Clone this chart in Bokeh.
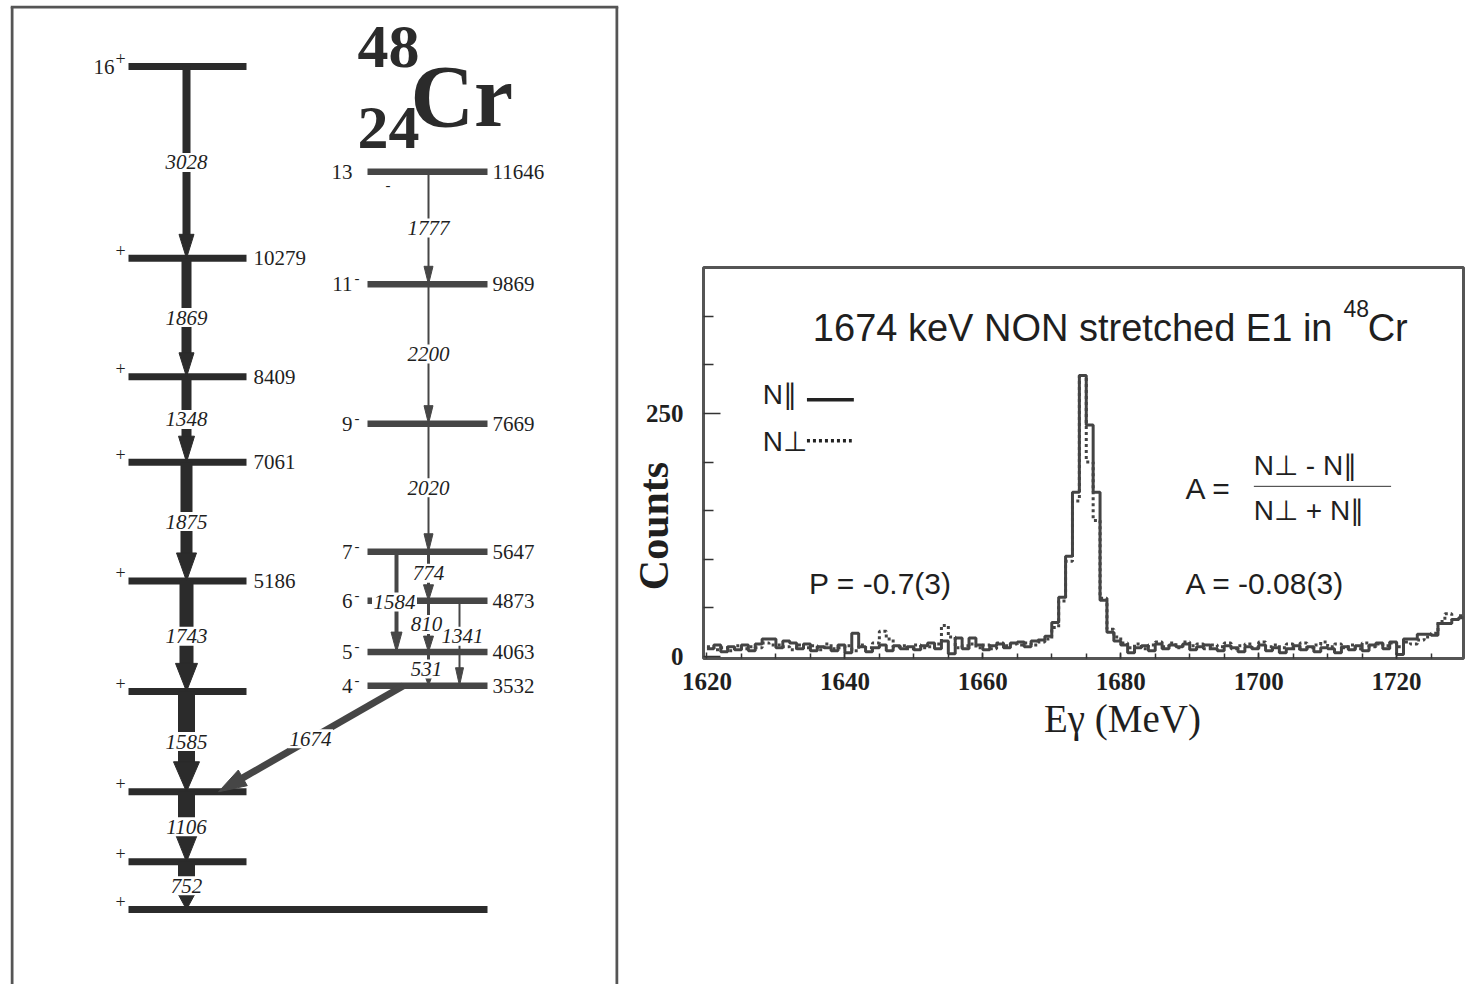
import math
from bokeh.plotting import figure
from bokeh.models import Range1d, FixedTicker, ColumnDataSource
from bokeh.layouts import row
from bokeh.embed import file_html
from bokeh.resources import INLINE
from bokeh.core.properties import value

# ---------------- level scheme data (keV) ----------------
gsb_levels = [0, 752, 1858, 3443, 5186, 7061, 8409, 10279, 13307]
gsb_energy_labels = ["", "", "", "", "5186", "7061", "8409", "10279", ""]
gsb_spin_labels = ["", "", "", "", "", "", "", "", "16"]
gsb_gammas = ["752", "1106", "1585", "1743", "1875", "1348", "1869", "3028"]  # level i+1 -> i

neg_levels = [3532, 4063, 4873, 5647, 7669, 9869, 11646]
neg_spin_labels = ["4", "5", "6", "7", "9", "11", "13"]
neg_gammas = ["1777", "2200", "2020", "774", "1584", "810", "1341", "531", "1674"]
neg_gamma_from = [11646, 9869, 7669, 5647, 5647, 4873, 4873, 4063, 3532]
neg_gamma_to = [9869, 7669, 5647, 4873, 4063, 4063, 3532, 3532, 1858]

# ---------------- spectrum data ----------------
energy_bins = list(range(1620, 1730))  # bin left edges (keV), 1 keV bins
counts_par = [8, 12, 5, 10, 7, 12, 6, 13, 18, 18,
              9, 16, 14, 8, 13, 6, 10, 9, 6, 12,
              4, 24, 10, 5, 9, 12, 6, 11, 8, 10,
              7, 11, 14, 8, 16, 3, 19, 8, 19, 12,
              7, 11, 13, 9, 14, 15, 10, 16, 17, 21,
              35, 61, 103, 169, 289, 238, 169, 58, 25, 16,
              12, 4, 9, 11, 6, 13, 8, 12, 10, 13,
              7, 10, 12, 8, 6, 11, 9, 5, 10, 8,
              12, 6, 9, 4, 8, 11, 7, 10, 5, 9,
              8, 4, 10, 7, 11, 6, 12, 14, 8, 15,
              2, 18, 18, 23, 23, 22, 34, 34, 38, 40]
counts_perp = [10, 7, 9, 6, 11, 8, 10, 9, 14, 12,
               12, 10, 7, 12, 9, 11, 7, 13, 8, 9,
               11, 6, 12, 9, 14, 26, 18, 10, 11, 8,
               12, 9, 10, 13, 32, 20, 9, 11, 13, 9,
               12, 8, 14, 11, 13, 12, 14, 12, 15, 18,
               30, 57, 98, 160, 289, 200, 140, 60, 28, 20,
               14, 9, 13, 8, 12, 15, 10, 14, 9, 15,
               11, 13, 8, 12, 10, 14, 8, 11, 13, 9,
               15, 10, 12, 9, 13, 8, 14, 9, 12, 15,
               10, 13, 9, 12, 8, 14, 10, 13, 11, 14,
               10, 15, 13, 17, 20, 24, 36, 44, 38, 42]

SERIF = "Liberation Serif"
SANS = "Liberation Sans"
DARK = "#2b2b2b"
GREY = "#464646"
TXT = "#1f1f1f"

# ================= left panel: level scheme =================
E_BOT, E_TOP = -1184, 14270
FRAME_TOP = 5
FRAME_H = 979
S = FRAME_H / (E_TOP - E_BOT)  # px per keV


def px2e(px):
    return px / S


def y2e(y):
    return E_TOP - (y - FRAME_TOP) / S


p1 = figure(output_backend="svg", toolbar_location=None,
            x_range=Range1d(10, 618), y_range=Range1d(E_BOT, E_TOP),
            frame_width=608, frame_height=FRAME_H,
            min_border_left=10, min_border_right=2, min_border_top=FRAME_TOP, min_border_bottom=0,
            x_axis_location=None, y_axis_location=None)
p1.xgrid.visible = False
p1.ygrid.visible = False
p1.outline_line_color = None
p1.background_fill_color = "white"
p1.border_fill_color = "white"

# box border (left, right, top)
top_e = E_TOP - px2e(1.5)
p1.multi_line(xs=[[11.5, 11.5], [616.5, 616.5], [10, 618]],
              ys=[[E_BOT, top_e], [E_BOT, top_e], [top_e, top_e]],
              line_color="#555555", line_width=3)

# level bars
gx0 = [128] * len(gsb_levels)
gx1 = [487 if e == 0 else 246 for e in gsb_levels]
p1.segment(x0=gx0, y0=gsb_levels, x1=gx1, y1=gsb_levels, line_color=DARK, line_width=7)
p1.segment(x0=[367] * len(neg_levels), y0=neg_levels, x1=[487] * len(neg_levels), y1=neg_levels,
           line_color=GREY, line_width=6.5)

# arrows
sh = dict(x0=[], y0=[], x1=[], y1=[], w=[], c=[])
hd = dict(xs=[], ys=[], c=[])
lab = dict(x=[], y=[], t=[], w=[])


def arrow(x0, e0, x1, e1, lw, hw, hl, color, text, lx=None, ldy=0):
    dx = x1 - x0
    dy = (e1 - e0) * S
    L = math.hypot(dx, dy)
    ux, uy = dx / L, dy / L
    bx = x1 - ux * hl
    by = e1 * S - uy * hl
    nx, ny = -uy, ux
    sh["x0"].append(x0); sh["y0"].append(e0)
    sh["x1"].append(bx + ux * 1.5); sh["y1"].append((by + uy * 1.5) / S)
    sh["w"].append(lw); sh["c"].append(color)
    hd["xs"].append([x1, bx + nx * hw / 2, bx - nx * hw / 2])
    hd["ys"].append([e1, (by + ny * hw / 2) / S, (by - ny * hw / 2) / S])
    hd["c"].append(color)
    lab["x"].append((x0 + x1) / 2 if lx is None else lx)
    lab["y"].append((e0 + e1) / 2 + px2e(ldy))
    lab["t"].append(text)
    lab["w"].append(10.5 * len(text) + 3)


gsb_lw = [17, 17, 17, 14, 12, 10, 10, 8]
gsb_hw = [24, 24, 26, 22, 20, 16, 15, 15]
gsb_hl = [22, 30, 30, 28, 28, 26, 24, 24]
for i, t in enumerate(gsb_gammas):
    arrow(186, gsb_levels[i + 1], 186, gsb_levels[i], gsb_lw[i], gsb_hw[i], gsb_hl[i], DARK, t)

neg_x0 = [428, 428, 428, 428, 396, 428, 459, 428, 403]
neg_x1 = [428, 428, 428, 428, 396, 428, 459, 428, 218]
neg_lw = [2, 2, 2, 3, 4, 3, 2, 3, 7]
neg_hw = [9, 9, 9, 10, 11, 10, 8, 10, 18]
neg_hl = [18, 18, 18, 16, 20, 16, 18, 14, 28]
neg_lx = [428, 428, 428, 428, 394, 426, 462, 426, 310]
neg_ldy = [0, 0, 0, 3, 0, 2, 7, 0, 0]
for i, t in enumerate(neg_gammas):
    arrow(neg_x0[i], neg_gamma_from[i], neg_x1[i], neg_gamma_to[i], neg_lw[i], neg_hw[i], neg_hl[i],
          GREY, t, lx=neg_lx[i], ldy=neg_ldy[i])

p1.segment(x0="x0", y0="y0", x1="x1", y1="y1", line_width="w", line_color="c",
           source=ColumnDataSource(sh))
p1.patches(xs="xs", ys="ys", fill_color="c", line_color="c", line_width=1,
           source=ColumnDataSource(hd))

lab_src = ColumnDataSource(lab)
p1.rect(x="x", y="y", width="w", height=19, width_units="screen", height_units="screen",
        fill_color="white", line_color=None, source=lab_src)
p1.text(x="x", y="y", text="t", source=lab_src, text_align="center", text_baseline="middle",
        text_font=value(SERIF), text_font_style="italic", text_font_size="21px", text_color=TXT)

# energy labels
ge = [e for e, l in zip(gsb_levels, gsb_energy_labels) if l]
gl = [l for l in gsb_energy_labels if l]
p1.text(x=[253] * len(ge), y=ge, text=gl, text_baseline="middle",
        text_font=value(SERIF), text_font_size="21px", text_color=TXT)
p1.text(x=[492] * len(neg_levels), y=neg_levels, text=[str(e) for e in neg_levels],
        text_baseline="middle", text_font=value(SERIF), text_font_size="21px", text_color=TXT)

# spins / parities
gs_e = [e for e, l in zip(gsb_levels, gsb_spin_labels) if l]
gs_l = [l for l in gsb_spin_labels if l]
p1.text(x=[114] * len(gs_e), y=gs_e, text=gs_l, text_align="right", text_baseline="middle",
        text_font=value(SERIF), text_font_size="21px", text_color=TXT)
p1.text(x=[115] * len(gsb_levels), y=[e + px2e(8) for e in gsb_levels],
        text=["+"] * len(gsb_levels), text_baseline="middle",
        text_font=value(SERIF), text_font_size="18px", text_color=TXT)
p1.text(x=[352] * len(neg_levels), y=neg_levels, text=neg_spin_labels, text_align="right",
        text_baseline="middle", text_font=value(SERIF), text_font_size="21px", text_color=TXT)
par_dx = [2, 2, 2, 2, 2, 2, 33]
par_dy = [6, 6, 6, 6, 6, 6, -13]
p1.text(x=[352 + d for d in par_dx], y=[e + px2e(d) for e, d in zip(neg_levels, par_dy)],
        text=["-"] * len(neg_levels), text_baseline="middle",
        text_font=value(SERIF), text_font_size="15px", text_color=TXT)

# nucleus symbol
p1.text(x=[357], y=[y2e(46)], text=["48"], text_baseline="middle",
        text_font=value(SERIF), text_font_style="bold", text_font_size="62px", text_color=DARK)
p1.text(x=[357], y=[y2e(127)], text=["24"], text_baseline="middle",
        text_font=value(SERIF), text_font_style="bold", text_font_size="62px", text_color=DARK)
p1.text(x=[410], y=[y2e(96)], text=["Cr"], text_baseline="middle",
        text_font=value(SERIF), text_font_style="bold", text_font_size="88px", text_color=DARK)

# ================= right panel: spectrum =================
p2 = figure(output_backend="svg", toolbar_location=None,
            x_range=Range1d(1619.5, 1729.7), y_range=Range1d(-2, 400),
            frame_width=760, frame_height=391,
            min_border_left=83, min_border_right=10, min_border_top=267, min_border_bottom=326)
p2.xgrid.visible = False
p2.ygrid.visible = False
p2.outline_line_color = "#555555"
p2.outline_line_width = 3
p2.background_fill_color = "white"
p2.border_fill_color = "white"

for fig in (p1, p2):
    if "frame_align" in fig.properties():
        fig.frame_align = False

p2.xaxis.ticker = FixedTicker(ticks=[1620, 1640, 1660, 1680, 1700, 1720],
                              minor_ticks=[1625 + 5 * k for k in range(21)])
p2.yaxis.ticker = FixedTicker(ticks=[0, 250], minor_ticks=[50, 100, 150, 200, 300, 350])
for ax in (p2.xaxis, p2.yaxis):
    ax.axis_line_color = None
    ax.major_tick_out = 0
    ax.minor_tick_out = 0
    ax.major_tick_line_color = "#333333"
    ax.minor_tick_line_color = "#333333"
    ax.major_tick_line_width = 1.5
    ax.minor_tick_line_width = 1.5
    ax.major_label_text_font = SERIF
    ax.major_label_text_font_style = "bold"
    ax.major_label_text_font_size = "25px"
    ax.major_label_text_color = TXT
    ax.axis_label_text_font = SERIF
    ax.axis_label_text_color = TXT
p2.xaxis.major_tick_in = 6
p2.xaxis.minor_tick_in = 5
p2.yaxis.major_tick_in = 17
p2.yaxis.minor_tick_in = 10
p2.xaxis.major_label_standoff = 14
p2.yaxis.major_label_standoff = 20

p2.yaxis.axis_label = "Counts" + "\u2002" * 6
p2.yaxis.axis_label_text_font_style = "bold"
p2.yaxis.axis_label_text_font_size = "42px"
p2.yaxis.axis_label_standoff = -34
p2.xaxis.axis_label = "\u2002" * 4 + "E\u03b3 (MeV)"
p2.xaxis.axis_label_text_font_style = "normal"
p2.xaxis.axis_label_text_font_size = "39px"
p2.xaxis.axis_label_standoff = 4

edges = energy_bins + [energy_bins[-1] + 1]
p2.step(edges, counts_perp + [counts_perp[-1]], mode="after", line_width=3,
        line_color="#444444", line_dash="3 3")
p2.step(edges, counts_par + [counts_par[-1]], mode="after", line_width=3, line_color="#444444")


def t2(x, y, s, size="30px", font=SANS, align="left", style="normal"):
    p2.text(x=[x], y=[y], text=[s], text_align=align, text_baseline="middle",
            text_font=value(font), text_font_size=size, text_font_style=style, text_color=TXT)


t2(1710.7, 338, "1674 keV NON stretched E1 in", size="38px", align="right")
t2(1712.3, 358, "48", size="23px")
t2(1715.8, 338, "Cr", size="38px")
t2(1628.1, 269, "N\u2225", size="28px")
t2(1628.1, 221, "N\u22a5", size="28px")
p2.segment(x0=[1634.5], y0=[264], x1=[1641.3], y1=[264], line_width=3.5, line_color="#222222")
p2.segment(x0=[1634.5], y0=[222], x1=[1641.0], y1=[222], line_width=3.5, line_color="#222222",
           line_dash="3 3")
t2(1689.4, 173, "A =")
t2(1699.3, 196, "N\u22a5 - N\u2225", size="28px")
t2(1699.3, 150, "N\u22a5 + N\u2225", size="28px")
p2.segment(x0=[1699.3], y0=[175], x1=[1719.2], y1=[175], line_width=1, line_color="#333333")
t2(1634.8, 75, "P = -0.7(3)")
t2(1689.4, 75, "A = -0.08(3)")

layout = row(p1, p2, spacing=0)
open("out.html", "w").write(file_html(layout, INLINE))
